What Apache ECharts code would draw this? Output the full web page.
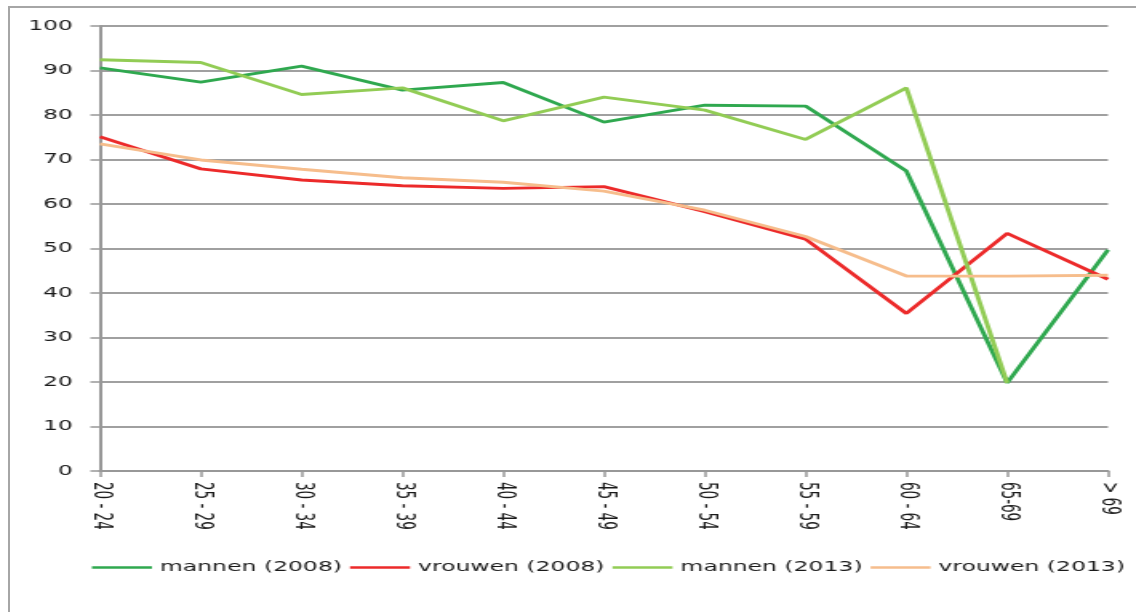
<!DOCTYPE html>
<html>
<head>
<meta charset="utf-8">
<script src="https://cdn.jsdelivr.net/npm/echarts@6/dist/echarts.min.js"></script>
<style>
  html, body {
    margin: 0;
    padding: 0;
    background: #fff;
    overflow: hidden;
  }

  .frame {
    position: absolute;
    left: 8px;
    top: 6px;
    width: 1200px;
    height: 700px;
    border-left: 2px solid #a6a6a6;
    border-top: 2px solid #a6a6a6;
  }

  /* the original picture is stretched sideways, so the chart is drawn narrow and widened */
  .chart-container {
    position: absolute;
    left: 0;
    top: 0;
    width: 710px;
    height: 612px;
    transform: scaleX(1.6);
    transform-origin: left top;
  }
</style>
</head>
<body>
<div class="frame"></div>
<div id="chart" class="chart-container"></div>
<script>
const categories = ['20 - 24', '25 - 29', '30 - 34', '35 - 39', '40 - 44', '45 - 49', '50 - 54', '55 - 59', '60 - 64', '65-69', '> 69']

const mannen2008 = [90.6, 87.4, 91.0, 85.6, 87.3, 78.4, 82.2, 82.0, 67.4, 19.8, 49.7]
const vrouwen2008 = [75.1, 67.9, 65.4, 64.1, 63.5, 63.9, 58.3, 52.1, 35.4, 53.4, 43.1]
const mannen2013 = [92.4, 91.8, 84.6, 86.1, 78.7, 84.0, 81.1, 74.5, 86.1, 19.8, null]
const vrouwen2013 = [73.5, 69.9, 67.8, 65.9, 64.9, 62.9, 58.6, 52.7, 43.8, 43.8, 44.0]

const yTicks = { min: 0, max: 100, interval: 10 }

const textFont = 'DejaVu Sans'

function makeSeries(name, data, color) {
  return {
    name: name,
    type: 'line',
    data: data,
    symbol: 'none',
    connectNulls: false,
    lineStyle: {
      width: 2.9,
      color: color
    },
    itemStyle: {
      color: color
    }
  }
}

const chartInstance = echarts.init(document.getElementById('chart'), null, { renderer: 'canvas' })

chartInstance.setOption({
  animation: false,
  grid: {
    left: 62.5,
    right: 17.5,
    top: 26,
    bottom: 141
  },
  legend: {
    left: 57.5,
    top: 560,
    width: 652,
    padding: 0,
    icon: 'rect',
    itemWidth: 37.5,
    itemHeight: 2.6,
    itemGap: 5,
    textStyle: {
      fontFamily: textFont,
      fontSize: 14.7,
      color: '#1a1a1a'
    },
    data: ['mannen (2008)', 'vrouwen (2008)', 'mannen (2013)', 'vrouwen (2013)']
  },
  xAxis: {
    type: 'category',
    data: categories,
    boundaryGap: false,
    axisLine: {
      lineStyle: { color: '#989898', width: 2 }
    },
    axisTick: {
      show: true,
      length: 6,
      alignWithLabel: true,
      lineStyle: { color: '#989898', width: 1.5 }
    },
    axisLabel: {
      rotate: -90,
      interval: 0,
      margin: 11,
      fontFamily: '"DejaVu Sans Condensed", "DejaVu Sans"',
      fontSize: 15,
      color: '#1a1a1a'
    },
    splitLine: { show: false }
  },
  yAxis: {
    type: 'value',
    min: yTicks.min,
    max: yTicks.max,
    interval: yTicks.interval,
    axisLine: {
      show: true,
      lineStyle: { color: '#989898', width: 2 }
    },
    axisTick: {
      show: true,
      length: 6,
      lineStyle: { color: '#989898', width: 1.5 }
    },
    axisLabel: {
      margin: 17,
      fontFamily: textFont,
      fontSize: 14.5,
      color: '#1a1a1a'
    },
    splitLine: {
      lineStyle: { color: '#a0a0a0', width: 2 }
    }
  },
  series: [
    makeSeries('mannen (2008)', mannen2008, '#2fa84f'),
    makeSeries('vrouwen (2008)', vrouwen2008, '#ec2a2a'),
    makeSeries('mannen (2013)', mannen2013, '#92cc55'),
    makeSeries('vrouwen (2013)', vrouwen2013, '#f6bd8c')
  ]
})
</script>
</body>
</html>
